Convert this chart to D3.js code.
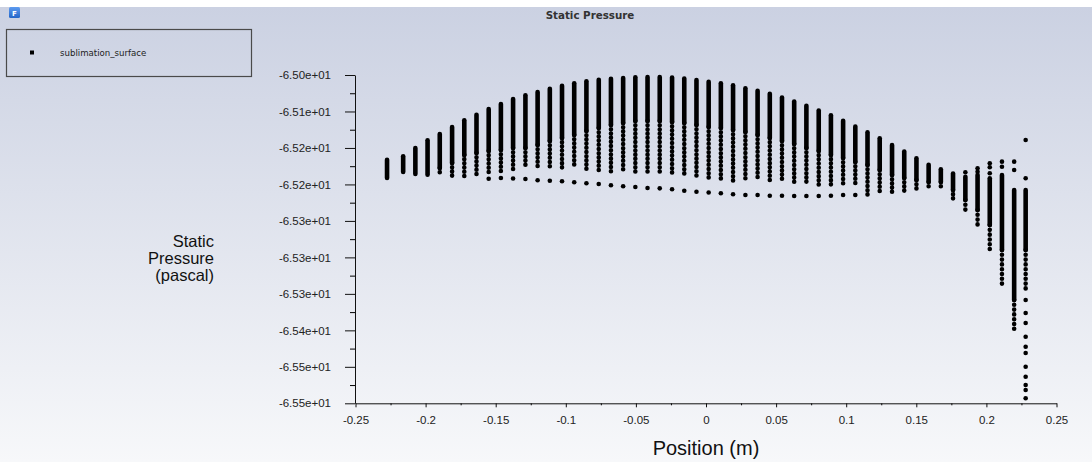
<!DOCTYPE html>
<html>
<head>
<meta charset="utf-8">
<script src="https://cdn.jsdelivr.net/npm/d3@7"></script>
<style>
	body { margin: 0; background: #fff; }
	svg { display: block; }
</style>
</head>
<body>
<svg id="main_svg"></svg>
<script>
const WIDTH = 1092;
const HEIGHT = 462;

// position (m) of each column of nodes on the surface
const positions = [-0.2275, -0.2160, -0.2073, -0.1986, -0.1899, -0.1811, -0.1724, -0.1637, -0.1550, -0.1463,
	-0.1376, -0.1288, -0.1201, -0.1114, -0.1027, -0.0940, -0.0853, -0.0765, -0.0678, -0.0591,
	-0.0504, -0.0417, -0.0330, -0.0242, -0.0155, -0.0068, 0.0019, 0.0106, 0.0193, 0.0281,
	0.0368, 0.0455, 0.0542, 0.0629, 0.0716, 0.0804, 0.0891, 0.0978, 0.1065, 0.1152,
	0.1239, 0.1327, 0.1414, 0.1501, 0.1588, 0.1675, 0.1762, 0.1850, 0.1937, 0.2024,
	0.2111, 0.2198, 0.2280];

// highest pressure in each column (pascal)
const colTop = [-65.1290, -65.1238, -65.1112, -65.0995, -65.0899, -65.0792, -65.0690, -65.0605, -65.0518, -65.0442,
	-65.0366, -65.0309, -65.0259, -65.0209, -65.0163, -65.0126, -65.0096, -65.0072, -65.0056, -65.0046,
	-65.0035, -65.0030, -65.0030, -65.0038, -65.0053, -65.0076, -65.0102, -65.0125, -65.0155, -65.0201,
	-65.0241, -65.0286, -65.0343, -65.0404, -65.0469, -65.0541, -65.0614, -65.0698, -65.0784, -65.0871,
	-65.0963, -65.1066, -65.1165, -65.1269, -65.1366, -65.1436, -65.1500, -65.1549, -65.1523, -65.1573,
	-65.1523, -65.1751, -65.1751];

// where the dense run of points ends
const colDense = [-65.1569, -65.1477, -65.1508, -65.1518, -65.1416, -65.1340, -65.1218, -65.1188, -65.1157, -65.1142,
	-65.1112, -65.1112, -65.1066, -65.1005, -65.0959, -65.0914, -65.0853, -65.0807, -65.0762, -65.0731,
	-65.0701, -65.0701, -65.0701, -65.0716, -65.0731, -65.0762, -65.0792, -65.0807, -65.0838, -65.0868,
	-65.0914, -65.0959, -65.1005, -65.1051, -65.1112, -65.1157, -65.1218, -65.1264, -65.1325, -65.1371,
	-65.1447, -65.1523, -65.1569, -65.1599, -65.1630, -65.1630, -65.1751, -65.1904, -65.2056, -65.2285,
	-65.2665, -65.3427, -65.2665];

// bottom of the spaced-out points
const colBottom = [-65.1569, -65.1477, -65.1508, -65.1518, -65.1528, -65.1543, -65.1569, -65.1569, -65.1493, -65.1467,
	-65.1447, -65.1416, -65.1416, -65.1416, -65.1416, -65.1416, -65.1442, -65.1467, -65.1467, -65.1493,
	-65.1493, -65.1508, -65.1497, -65.1523, -65.1538, -65.1553, -65.1569, -65.1584, -65.1614, -65.1599,
	-65.1610, -65.1625, -65.1640, -65.1649, -65.1660, -65.1675, -65.1691, -65.1691, -65.1701, -65.1843,
	-65.1828, -65.1805, -65.1812, -65.1777, -65.1751, -65.1751, -65.1889, -65.2082, -65.2335, -65.2691,
	-65.3224, -65.3934, -65.3320];

// lowest isolated point per column (null = none)
const colLowest = [null, null, null, null, null, null, null, null, -65.1579, -65.1569,
	-65.1576, -65.1584, -65.1604, -65.1610, -65.1619, -65.1634, -65.1649, -65.1660, -65.1680, -65.1695,
	-65.1706, -65.1721, -65.1726, -65.1741, -65.1762, -65.1777, -65.1790, -65.1802, -65.1817, -65.1828,
	-65.1828, -65.1838, -65.1838, -65.1843, -65.1843, -65.1843, -65.1838, -65.1828, -65.1828, null,
	null, null, null, null, null, null, null, null, null, null,
	null, null, null];

// stray points near the right edge
const extraX = [0.1850, 0.1937, 0.1937, 0.2024, 0.2024, 0.2024, 0.2111, 0.2111, 0.2198, 0.2198,
	0.2280, 0.2280, 0.2280, 0.2280, 0.2280, 0.2280, 0.2280, 0.2280, 0.2280, 0.2280, 0.2280, 0.2280, 0.2280];
const extraP = [-65.1482, -65.1421, -65.1473, -65.1345, -65.1406, -65.1497, -65.1320, -65.1397, -65.1320, -65.1447,
	-65.0990, -65.1573, -65.3427, -65.3625, -65.3777, -65.3986, -65.4138, -65.4234, -65.4443, -65.4595,
	-65.4721, -65.4797, -65.4924];

const xTicks = [-0.25, -0.2, -0.15, -0.1, -0.05, 0, 0.05, 0.1, 0.15, 0.2, 0.25];
const xTickLabels = ['-0.25', '-0.2', '-0.15', '-0.1', '-0.05', '0', '0.05', '0.1', '0.15', '0.2', '0.25'];
const yTickLabels = ['-6.50e+01', '-6.51e+01', '-6.52e+01', '-6.52e+01', '-6.53e+01',
	'-6.53e+01', '-6.53e+01', '-6.54e+01', '-6.55e+01', '-6.55e+01'];

const svg = d3.select('#main_svg').attr('width', WIDTH).attr('height', HEIGHT);

// background gradient
const defs = svg.append('defs');
const grad = defs.append('linearGradient').attr('id', 'bg').attr('x1', 0).attr('y1', 0).attr('x2', 0).attr('y2', 1);
grad.append('stop').attr('offset', '0%').attr('stop-color', '#cbd1e2');
grad.append('stop').attr('offset', '100%').attr('stop-color', '#f7f8fa');
const icon = defs.append('linearGradient').attr('id', 'icon').attr('x1', 0).attr('y1', 0).attr('x2', 0).attr('y2', 1);
icon.append('stop').attr('offset', '0%').attr('stop-color', '#5d9bf0');
icon.append('stop').attr('offset', '100%').attr('stop-color', '#2466c8');

svg.append('rect').attr('width', WIDTH).attr('height', HEIGHT).attr('fill', '#fff');
svg.append('rect').attr('y', 7).attr('width', WIDTH).attr('height', HEIGHT - 7).attr('fill', 'url(#bg)');

// little app badge
svg.append('rect').attr('x', 9).attr('y', 7).attr('width', 11).attr('height', 11).attr('rx', 1.5).attr('fill', 'url(#icon)');
svg.append('text').attr('x', 14.5).attr('y', 15.5).attr('text-anchor', 'middle')
	.attr('font-family', 'DejaVu Sans').attr('font-weight', 'bold').attr('font-size', '7px')
	.attr('fill', '#fff').text('F');

svg.append('text')
	.attr('x', 590).attr('y', 19)
	.attr('text-anchor', 'middle')
	.attr('font-family', 'DejaVu Sans').attr('font-weight', 'bold').attr('font-size', '10.3px')
	.attr('fill', '#333')
	.text('Static Pressure');

// legend
svg.append('rect').attr('x', 6.5).attr('y', 29.5).attr('width', 245).attr('height', 47)
	.attr('fill', 'none').attr('stroke', '#4a4a4a').attr('stroke-width', 1.2);
svg.append('rect').attr('x', 30).attr('y', 50.5).attr('width', 4).attr('height', 4).attr('fill', '#000');
svg.append('text').attr('x', 60).attr('y', 56)
	.attr('font-family', 'DejaVu Sans').attr('font-size', '8.6px').attr('fill', '#222')
	.text('sublimation_surface');

const x = d3.scaleLinear().domain([-0.25, 0.25]).range([355.5, 1056.5]);
const y = d3.scaleLinear().domain([-65.5, -65.0]).range([403.3, 75]);

const yTicks = d3.range(yTickLabels.length).map(i => -65.0 - i * 0.5 / (yTickLabels.length - 1));
const yMinor = yTicks.slice(1).map((d, i) => (d + yTicks[i]) / 2);
const xMinor = xTicks.slice(1).map((d, i) => (d + xTicks[i]) / 2);

const axisFont = g => g.selectAll('text')
	.attr('font-family', 'Liberation Sans, Arial, sans-serif')
	.attr('font-size', '11.5px')
	.attr('fill', '#222');

svg.append('g')
	.attr('transform', 'translate(355,0)')
	.call(d3.axisLeft(y).tickValues(yMinor).tickSize(5).tickSizeOuter(0).tickFormat(''))
	.call(g => g.select('.domain').remove());
svg.append('g')
	.attr('class', 'y_axis')
	.attr('transform', 'translate(355,0)')
	.call(d3.axisLeft(y).tickValues(yTicks).tickSize(10).tickSizeOuter(0).tickPadding(14)
		.tickFormat((d, i) => yTickLabels[i]))
	.call(axisFont)
	.call(g => g.select('.domain').attr('stroke', '#111'))
	.call(g => g.selectAll('line').attr('stroke', '#111'));

svg.append('g')
	.attr('transform', 'translate(0,403.3)')
	.call(d3.axisBottom(x).tickValues(xMinor).tickSize(2).tickSizeOuter(0).tickFormat(''))
	.call(g => g.select('.domain').remove());
svg.append('g')
	.attr('class', 'x_axis')
	.attr('transform', 'translate(0,403.3)')
	.call(d3.axisBottom(x).tickValues(xTicks).tickSize(4).tickSizeOuter(0).tickPadding(9)
		.tickFormat((d, i) => xTickLabels[i]))
	.call(axisFont)
	.call(g => g.select('.domain').attr('stroke', '#111'))
	.call(g => g.selectAll('line').attr('stroke', '#111'));

svg.append('text')
	.attr('x', 706).attr('y', 455)
	.attr('text-anchor', 'middle')
	.attr('font-family', 'Liberation Sans, Arial, sans-serif').attr('font-size', '20px')
	.attr('fill', '#111')
	.text('Position (m)');

const ylab = svg.append('text')
	.attr('text-anchor', 'end')
	.attr('font-family', 'Liberation Sans, Arial, sans-serif').attr('font-size', '16.5px')
	.attr('fill', '#111');
['Static', 'Pressure', '(pascal)'].forEach((t, i) => {
	ylab.append('tspan').attr('x', 214).attr('y', 247 + i * 17).text(t);
});

// the data
const cols = positions.map((p, i) => ({
	x: p, top: colTop[i], dense: colDense[i], bottom: colBottom[i], low: colLowest[i]
}));

const marks = svg.append('g').attr('stroke', '#000').attr('fill', '#000');

marks.selectAll('.dense')
	.data(cols)
	.enter()
	.append('line')
	.attr('class', 'dense')
	.attr('x1', d => x(d.x)).attr('x2', d => x(d.x))
	.attr('y1', d => y(d.top)).attr('y2', d => y(d.dense))
	.attr('stroke-width', 4.6)
	.attr('stroke-linecap', 'round');

// looser run below the dense part: round dots that nearly touch
marks.selectAll('.sparse')
	.data(cols.filter(d => d.bottom < d.dense))
	.enter()
	.append('line')
	.attr('class', 'sparse')
	.attr('x1', d => x(d.x)).attr('x2', d => x(d.x))
	.attr('y1', d => y(d.dense)).attr('y2', d => y(d.bottom))
	.attr('stroke-width', 4.6)
	.attr('stroke-linecap', 'round')
	.attr('stroke-dasharray', d => d.x > 0.18 ? '0 4.8' : '0 4.2');

marks.selectAll('.low')
	.data(cols.filter(d => d.low !== null))
	.enter()
	.append('circle')
	.attr('class', 'low')
	.attr('cx', d => x(d.x)).attr('cy', d => y(d.low))
	.attr('r', 2.3).attr('stroke', 'none');

marks.selectAll('.extra')
	.data(extraX.map((e, i) => [e, extraP[i]]))
	.enter()
	.append('circle')
	.attr('class', 'extra')
	.attr('cx', d => x(d[0])).attr('cy', d => y(d[1]))
	.attr('r', 2.3).attr('stroke', 'none');
</script>
</body>
</html>
